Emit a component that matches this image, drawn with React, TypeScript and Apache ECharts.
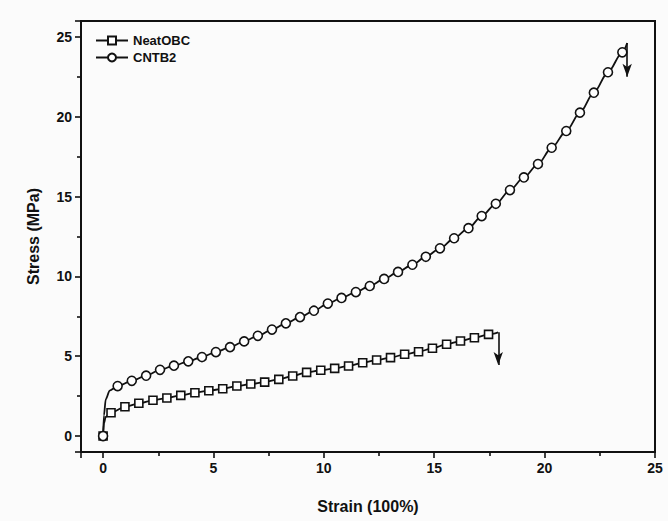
import React, { useEffect, useRef } from "react";
import * as echarts from "echarts";

// NeatOBC: strain (100%) and stress (MPa)
const neatStrain = [
  0, 0.04, 0.12, 0.36, 0.99, 1.62, 2.26, 2.89, 3.52, 4.16, 4.79, 5.42, 6.06, 6.69,
  7.32, 7.96, 8.59, 9.22, 9.86, 10.49, 11.12, 11.76, 12.39, 13.02, 13.66, 14.29,
  14.92, 15.56, 16.19, 16.82, 17.46, 17.9,
];
const neatStress = [
  0, 0.8, 1.2, 1.46, 1.83, 2.05, 2.24, 2.38, 2.55, 2.71, 2.84, 2.96, 3.13, 3.26,
  3.38, 3.55, 3.76, 3.99, 4.12, 4.24, 4.39, 4.59, 4.76, 4.91, 5.12, 5.28, 5.5,
  5.75, 5.95, 6.16, 6.37, 6.5,
];
const neatPlain = [1, 2, 31]; // points drawn without a marker
const neatBreak = [17.9, 6.5, 4.45]; // strain, from stress, to stress

// CNTB2
const cntStrain = [
  0, 0.04, 0.12, 0.3, 0.66, 1.3, 1.95, 2.58, 3.21, 3.86, 4.48, 5.11, 5.75, 6.39,
  7.01, 7.65, 8.28, 8.92, 9.55, 10.18, 10.8, 11.45, 12.08, 12.73, 13.36, 14.01,
  14.62, 15.26, 15.9, 16.55, 17.15, 17.79, 18.43, 19.06, 19.7, 20.32, 20.98,
  21.6, 22.23, 22.87, 23.52, 23.74,
];
const cntStress = [
  0, 1.3, 2.3, 2.85, 3.13, 3.46, 3.78, 4.15, 4.41, 4.68, 4.95, 5.26, 5.57, 5.93,
  6.28, 6.67, 7.06, 7.45, 7.85, 8.3, 8.65, 9.02, 9.4, 9.84, 10.28, 10.73, 11.23,
  11.76, 12.39, 13.02, 13.78, 14.55, 15.41, 16.2, 17.04, 18.06, 19.11, 20.26,
  21.51, 22.79, 24.04, 24.62,
];
const cntPlain = [1, 2, 3, 41];
const cntBreak = [23.74, 24.62, 22.5];

const xRange = [-1, 25];
const yRange = [-1, 26];
const labelRange = [0, 25]; // tick labels shown: 0, 5, ... 25

const FONT = "Liberation Sans, Arial, sans-serif";
const INK = "#111111";

function build(xs: number[], ys: number[], plain: number[]) {
  return xs.map((x, i) =>
    plain.includes(i) ? { value: [x, ys[i]], symbol: "none" } : { value: [x, ys[i]] }
  );
}

function arrow(b: number[]) {
  return {
    silent: true,
    symbol: ["none", "arrow"],
    symbolSize: [7, 13],
    label: { show: false },
    lineStyle: { color: INK, width: 1.6, type: "solid" },
    data: [[{ coord: [b[0], b[1]] }, { coord: [b[0], b[2]] }]],
  };
}

function axis(range: number[], name: string, gap: number) {
  return {
    type: "value",
    min: range[0],
    max: range[1],
    splitNumber: 5,
    name,
    nameLocation: "middle",
    nameGap: gap,
    nameTextStyle: { fontSize: 16, fontWeight: "bold", color: INK, fontFamily: FONT },
    axisLine: { show: true, onZero: false, lineStyle: { color: INK, width: 2 } },
    splitLine: { show: false },
    minorSplitLine: { show: false },
    axisTick: { show: true, length: 6, lineStyle: { color: INK, width: 1.6 } },
    minorTick: { show: true, splitNumber: 2, length: 4, lineStyle: { color: INK, width: 1.6 } },
    axisLabel: {
      fontSize: 14,
      fontWeight: "bold",
      color: INK,
      margin: 9,
      fontFamily: FONT,
      formatter: (v: number) =>
        v < labelRange[0] || v > labelRange[1] ? "" : String(v),
    },
  };
}

export default function App() {
  const ref = useRef<HTMLDivElement>(null);
  useEffect(() => {
    const chart = echarts.init(ref.current!, null, { renderer: "svg" });
    chart.setOption({
      animation: false,
      backgroundColor: "#fbfbfb",
      grid: {
        left: 81,
        right: 13,
        top: 21,
        bottom: 69,
        show: true,
        borderColor: INK,
        borderWidth: 2,
        backgroundColor: "rgba(0,0,0,0)",
      },
      legend: {
        orient: "vertical",
        left: 90,
        top: 29,
        itemWidth: 32,
        itemHeight: 10,
        itemGap: 4,
        data: ["NeatOBC", "CNTB2"],
        textStyle: { fontSize: 13, fontWeight: "bold", color: INK, fontFamily: FONT },
      },
      xAxis: axis(xRange, "Strain (100%)", 46),
      yAxis: axis(yRange, "Stress (MPa)", 40),
      series: [
        {
          name: "NeatOBC",
          type: "line",
          smooth: 0.3,
          smoothMonotone: "x",
          symbol: "rect",
          symbolSize: 8,
          showAllSymbol: true,
          itemStyle: { color: "#fff", borderColor: INK, borderWidth: 1.6 },
          lineStyle: { color: INK, width: 1.8 },
          data: build(neatStrain, neatStress, neatPlain),
          markLine: arrow(neatBreak),
        },
        {
          name: "CNTB2",
          type: "line",
          smooth: 0.3,
          smoothMonotone: "x",
          symbol: "circle",
          symbolSize: 9,
          showAllSymbol: true,
          itemStyle: { color: "#fff", borderColor: INK, borderWidth: 1.6 },
          lineStyle: { color: INK, width: 1.8 },
          data: build(cntStrain, cntStress, cntPlain),
          markLine: arrow(cntBreak),
        },
      ],
    });
    return () => chart.dispose();
  }, []);
  return (
    <div
      ref={ref}
      style={{ position: "fixed", left: 0, top: 0, width: 668, height: 521 }}
    />
  );
}
